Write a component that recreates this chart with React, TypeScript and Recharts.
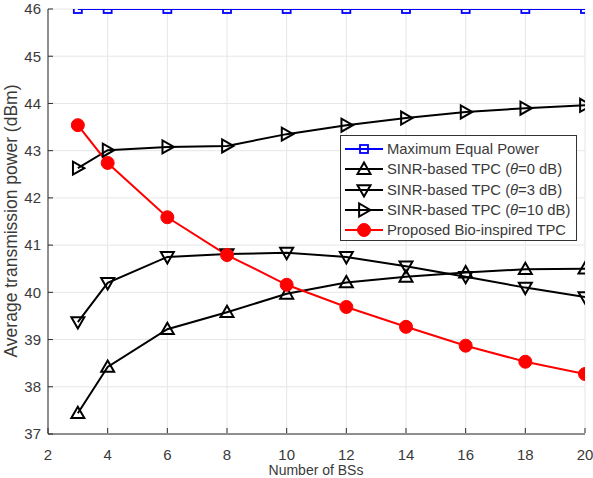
import { CartesianGrid, Line, LineChart, XAxis, YAxis } from "recharts";

const BS_COUNT = [3, 4, 6, 8, 10, 12, 14, 16, 18, 20];
const MAX_EQUAL = [46, 46, 46, 46, 46, 46, 46, 46, 46, 46];
const SINR_0DB = [37.44, 38.42, 39.22, 39.58, 39.97, 40.21, 40.33, 40.42, 40.49, 40.5];
const SINR_3DB = [39.37, 40.2, 40.75, 40.81, 40.84, 40.75, 40.55, 40.33, 40.1, 39.9];
const SINR_10DB = [42.63, 43.01, 43.08, 43.1, 43.35, 43.54, 43.69, 43.82, 43.9, 43.96];
const BIO_TPC = [43.54, 42.74, 41.59, 40.79, 40.16, 39.69, 39.27, 38.87, 38.53, 38.27];

const X_TICKS = [2, 4, 6, 8, 10, 12, 14, 16, 18, 20];
const Y_TICKS = [37, 38, 39, 40, 41, 42, 43, 44, 45, 46];

const DATA = BS_COUNT.map((n, i) => ({
  n,
  maxEq: MAX_EQUAL[i],
  s0: SINR_0DB[i],
  s3: SINR_3DB[i],
  s10: SINR_10DB[i],
  bio: BIO_TPC[i],
}));

const FONT = '"Liberation Sans", Arial, sans-serif';
const AXIS_COLOR = "#2b2b2b";
const TEXT_COLOR = "#3a3a3a";
const TICK_LEN = 5;

type Marker = "square" | "up" | "down" | "right" | "circle";

function markerPath(kind: Marker, cx: number, cy: number) {
  const r = 6.5;
  if (kind === "up") return `M${cx},${cy - r} L${cx + r},${cy + r * 0.75} L${cx - r},${cy + r * 0.75} Z`;
  if (kind === "down") return `M${cx},${cy + r} L${cx + r},${cy - r * 0.75} L${cx - r},${cy - r * 0.75} Z`;
  return `M${cx + r},${cy} L${cx - r * 0.75},${cy - r} L${cx - r * 0.75},${cy + r} Z`;
}

function MarkerShape({ kind, cx, cy }: { kind: Marker; cx: number; cy: number }) {
  if (kind === "square")
    return <rect x={cx - 4} y={cy - 4} width={8} height={8} fill="none" stroke="#0000ff" strokeWidth={1.8} />;
  if (kind === "circle") return <circle cx={cx} cy={cy} r={6.5} fill="#ff0000" stroke="#ff0000" />;
  return <path d={markerPath(kind, cx, cy)} fill="none" stroke="#000" strokeWidth={2} strokeLinejoin="miter" />;
}

const dotOf = (kind: Marker) => (p: any) =>
  p.cx == null ? <g key={p.index} /> : <MarkerShape key={p.index} kind={kind} cx={p.cx} cy={p.cy} />;

const BottomTick = (p: any) => (
  <g>
    <line x1={p.x} x2={p.x} y1={p.y - 16} y2={p.y - 16 - TICK_LEN} stroke={AXIS_COLOR} />
    <text x={p.x} y={p.y} dy="0.71em" textAnchor="middle" fill={TEXT_COLOR} fontSize={15} fontFamily={FONT}>
      {p.payload.value}
    </text>
  </g>
);

const LeftTick = (p: any) => (
  <g>
    <line x1={p.x + 7} x2={p.x + 7 + TICK_LEN} y1={p.y} y2={p.y} stroke={AXIS_COLOR} />
    <text x={p.x} y={p.y} dy="0.355em" textAnchor="end" fill={TEXT_COLOR} fontSize={15} fontFamily={FONT}>
      {p.payload.value}
    </text>
  </g>
);

const TopTick = (p: any) => <line x1={p.x} x2={p.x} y1={p.y} y2={p.y + TICK_LEN} stroke={AXIS_COLOR} />;
const RightTick = (p: any) => <line x1={p.x - TICK_LEN} x2={p.x} y1={p.y} y2={p.y} stroke={AXIS_COLOR} />;

const LEGEND: { label: React.ReactNode; color: string; kind: Marker }[] = [
  { label: "Maximum Equal Power", color: "#0000ff", kind: "square" },
  { label: <>SINR-based TPC (<i>θ</i>=0 dB)</>, color: "#000", kind: "up" },
  { label: <>SINR-based TPC (<i>θ</i>=3 dB)</>, color: "#000", kind: "down" },
  { label: <>SINR-based TPC (<i>θ</i>=10 dB)</>, color: "#000", kind: "right" },
  { label: "Proposed Bio-inspired TPC", color: "#ff0000", kind: "circle" },
];

function LegendBox() {
  return (
    <div
      style={{
        position: "absolute",
        left: 340,
        top: 135,
        width: 237,
        height: 106,
        border: "1px solid #333",
        background: "#fff",
        boxSizing: "border-box",
        paddingTop: 3,
        fontFamily: FONT,
        fontSize: 14.8,
        color: TEXT_COLOR,
      }}
    >
      {LEGEND.map((e, i) => (
        <div key={i} style={{ display: "flex", alignItems: "center", height: 20.3, whiteSpace: "nowrap" }}>
          <svg width={46} height={20} style={{ flex: "none" }}>
            <line x1={4} x2={42} y1={10} y2={10} stroke={e.color} strokeWidth={2} />
            <MarkerShape kind={e.kind} cx={23} cy={10} />
          </svg>
          <span>{e.label}</span>
        </div>
      ))}
    </div>
  );
}

export default function App() {
  return (
    <div style={{ position: "absolute", left: 0, top: 0, width: 593, height: 478, overflow: "hidden", background: "#fff" }}>
      <LineChart width={593} height={478} data={DATA} margin={{ top: 9, right: 8, bottom: 0, left: 0 }}>
        <CartesianGrid stroke="#e6e6e6" strokeWidth={1} />
        <XAxis
          dataKey="n"
          type="number"
          domain={[2, 20]}
          ticks={X_TICKS}
          height={44}
          tickSize={0}
          tickMargin={15}
          stroke={AXIS_COLOR}
          tick={BottomTick}
          tickLine={false}
          allowDataOverflow
        />
        <XAxis
          xAxisId="top"
          orientation="top"
          dataKey="n"
          type="number"
          domain={[2, 20]}
          ticks={X_TICKS}
          height={0}
          tickSize={0}
          tickMargin={0}
          stroke={AXIS_COLOR}
          tick={TopTick}
          tickLine={false}
        />
        <YAxis
          type="number"
          domain={[37, 46]}
          ticks={Y_TICKS}
          width={48}
          tickSize={0}
          tickMargin={7}
          stroke={AXIS_COLOR}
          tick={LeftTick}
          tickLine={false}
          allowDataOverflow
        />
        <YAxis
          yAxisId="right"
          orientation="right"
          type="number"
          domain={[37, 46]}
          ticks={Y_TICKS}
          width={0}
          tickSize={0}
          tickMargin={0}
          stroke={AXIS_COLOR}
          tick={RightTick}
          tickLine={false}
        />
        <Line dataKey="maxEq" stroke="#0000ff" strokeWidth={2} dot={dotOf("square")} isAnimationActive={false} />
        <Line dataKey="s0" stroke="#000" strokeWidth={2} dot={dotOf("up")} isAnimationActive={false} />
        <Line dataKey="s3" stroke="#000" strokeWidth={2} dot={dotOf("down")} isAnimationActive={false} />
        <Line dataKey="s10" stroke="#000" strokeWidth={2} dot={dotOf("right")} isAnimationActive={false} />
        <Line dataKey="bio" stroke="#ff0000" strokeWidth={2} dot={dotOf("circle")} isAnimationActive={false} />
        <text
          x={11}
          y={221}
          transform="rotate(-90 11 221)"
          textAnchor="middle"
          dominantBaseline="central"
          fill={TEXT_COLOR}
          fontSize={17.5}
          fontFamily={FONT}
        >
          Average transmission power (dBm)
        </text>
        <text x={316} y={475} textAnchor="middle" fill={TEXT_COLOR} fontSize={14} fontFamily={FONT}>
          Number of BSs
        </text>
      </LineChart>
      <LegendBox />
    </div>
  );
}
